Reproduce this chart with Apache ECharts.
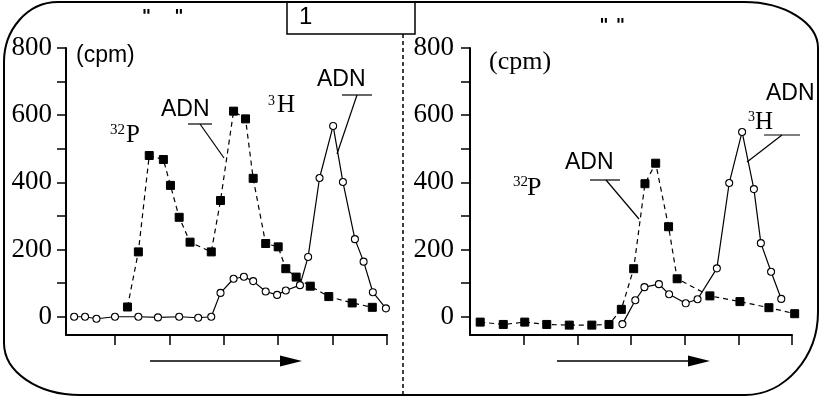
<!DOCTYPE html>
<html>
<head>
<meta charset="utf-8">
<script src="https://cdn.jsdelivr.net/npm/echarts@6/dist/echarts.min.js"></script>
<style>html,body{margin:0;padding:0;background:#fff}#c{width:819px;height:398px}</style>
</head>
<body>
<div id="c"></div>
<script>
// Left panel
var leftFrac32P = [1.23,1.43,1.63,1.89,2.02,2.18,2.38,2.77,2.94,3.18,3.40,3.54,3.77,4.00,4.14,4.33,4.59,4.93,5.36,5.73];
var leftCpm32P  = [29,193,480,468,391,296,222,193,346,612,589,412,218,208,143,118,91,60,41,28];
var leftFrac3H  = [0.25,0.45,0.66,1.00,1.43,1.79,2.18,2.53,2.77,2.94,3.18,3.37,3.54,3.77,3.98,4.14,4.40,4.55,4.76,5.01,5.19,5.41,5.57,5.74,5.98];
var leftCpm3H   = [0,0,-6,0,0,-2,0,-3,0,71,113,119,106,75,65,78,94,178,413,568,401,231,164,73,25];
// Right panel
var rightFrac32P = [0.19,0.62,1.02,1.43,1.85,2.27,2.59,2.82,3.05,3.26,3.46,3.70,3.86,4.47,5.03,5.57,6.05];
var rightCpm32P  = [-16,-23,-16,-23,-25,-25,-23,22,143,396,457,268,113,62,45,27,9];
var rightFrac3H  = [2.84,3.08,3.25,3.52,3.71,4.02,4.24,4.60,4.83,5.07,5.29,5.42,5.61,5.80];
var rightCpm3H   = [-22,49,88,97,67,40,52,144,398,550,380,219,134,53];
// Axis ticks
var yTicks = [0,100,200,300,400,500,600,700,800];
var yLabels = [0,200,400,600,800];
var xTicks = [1,2,3,4,5,6];

function zip(a,b){return a.map(function(v,i){return [v,b[i]];});}

var chart = echarts.init(document.getElementById('c'));
var serif = 'Liberation Serif';
var sans = 'Liberation Sans';

function xAx(idx,min,max){
  return {type:'value',gridIndex:idx,min:min,max:max,
    axisLine:{show:true,onZero:false,lineStyle:{color:'#000',width:2}},
    axisTick:{show:true,length:10,lineStyle:{color:'#000',width:1.5},customValues:xTicks},
    axisLabel:{show:false},splitLine:{show:false}};
}
function yAx(idx,margin){
  return {type:'value',gridIndex:idx,min:-54.4,max:800,
    axisLine:{show:true,onZero:false,lineStyle:{color:'#000',width:2}},
    axisTick:{show:true,length:9,lineStyle:{color:'#000',width:1.5},customValues:yTicks},
    axisLabel:{show:true,customValues:yLabels,margin:margin,color:'#000',fontFamily:serif,fontSize:27},
    splitLine:{show:false}};
}
function p32(xi,data){
  return {type:'line',xAxisIndex:xi,yAxisIndex:xi,data:data,clip:false,
    symbol:'rect',symbolSize:8,itemStyle:{color:'#000',borderColor:'#000'},
    lineStyle:{color:'#000',width:1.2,type:[5,4]},animation:false,z:3};
}
function h3(xi,data){
  return {type:'line',xAxisIndex:xi,yAxisIndex:xi,data:data,clip:false,
    symbol:'circle',symbolSize:7,itemStyle:{color:'#fff',borderColor:'#000',borderWidth:1.1},
    lineStyle:{color:'#000',width:1.2},animation:false,z:4};
}
function txt(t,x,y,font,align){
  return {type:'text',z:10,style:{text:t,x:x,y:y,font:font,fill:'#000',textAlign:align||'left',textVerticalAlign:'middle',verticalAlign:'middle'}};
}
function ln(x1,y1,x2,y2,w){
  return {type:'line',z:10,shape:{x1:x1,y1:y1,x2:x2,y2:y2},style:{stroke:'#000',lineWidth:w||1.2}};
}
function bz(x1,y1,c1x,c1y,c2x,c2y,x2,y2){
  return {type:'bezierCurve',z:1,shape:{x1:x1,y1:y1,cpx1:c1x,cpy1:c1y,cpx2:c2x,cpy2:c2y,x2:x2,y2:y2},style:{fill:null,stroke:'#000',lineWidth:2}};
}
function arrow(x1,x2,y){
  return [ln(x1,y,x2-18,y,1.5),
    {type:'polygon',z:10,shape:{points:[[x2-22,y-5.5],[x2,y],[x2-22,y+5.5]]},style:{fill:'#000'}}];
}

var graphics = [
  bz(4,62,4,30,27,2,58,2), ln(58,2,744,2,2),
  bz(744,2,785,2,818,23,818,48), ln(818,48,818,312,2),
  bz(818,312,818,357,785,395,745,395), ln(745,395,80,395,2),
  bz(80,395,38,395,4,372,4,343), ln(4,343,4,62,2),
  {type:'rect',z:2,shape:{x:287,y:2,width:128,height:32},style:{fill:'#fff',stroke:'#000',lineWidth:1.5}},
  txt('1',299,17,'24px '+sans),
  {type:'line',z:2,shape:{x1:403,y1:34,x2:403,y2:398},style:{stroke:'#000',lineWidth:1.5,lineDash:[4,3]}},
  txt('"',146.5,17,'bold 18px "DejaVu Sans"','center'),
  txt('"',179,17,'bold 18px "DejaVu Sans"','center'),
  txt('"',604,26,'bold 18px "DejaVu Sans"','center'),
  txt('"',620.5,26,'bold 18px "DejaVu Sans"','center'),
  // left annotations
  txt('(cpm)',76,56,'23px '+sans),
  txt('32',110,130,'15px '+serif),
  txt('P',126,135.5,'25px '+serif),
  txt('ADN',161,109.5,'23px '+sans),
  ln(188,124,212,124), ln(200,124,224,158),
  txt('3',268,101,'14px '+serif),
  txt('H',277,105.5,'25px '+serif),
  txt('ADN',317,80,'23px '+sans),
  ln(342,95,372,95), ln(357,95,337,154),
  // right annotations
  txt('(cpm)',489,62,'26px '+serif),
  txt('32',513,182.5,'15px '+serif),
  txt('P',527,188,'26px '+serif),
  txt('ADN',565,162.5,'23px '+sans),
  ln(590,180,620,180), ln(606,180,639,219),
  txt('3',748,117.5,'14px '+serif),
  txt('H',755,122,'25px '+serif),
  txt('ADN',766,94,'23px '+sans),
  ln(764,135,800,135), ln(782,135,747,162)
].concat(arrow(150,302,361)).concat(arrow(557,710,361));

chart.setOption({
  backgroundColor:'#fff',
  animation:false,
  grid:[{left:66,right:432,top:48,bottom:63},{left:470,right:27,top:48,bottom:63}],
  xAxis:[xAx(0,0.1,6),xAx(1,0,6)],
  yAxis:[yAx(0,14),yAx(1,16)],
  series:[p32(0,zip(leftFrac32P,leftCpm32P)),h3(0,zip(leftFrac3H,leftCpm3H)),
          p32(1,zip(rightFrac32P,rightCpm32P)),h3(1,zip(rightFrac3H,rightCpm3H))],
  graphic:graphics
});
</script>
</body>
</html>
